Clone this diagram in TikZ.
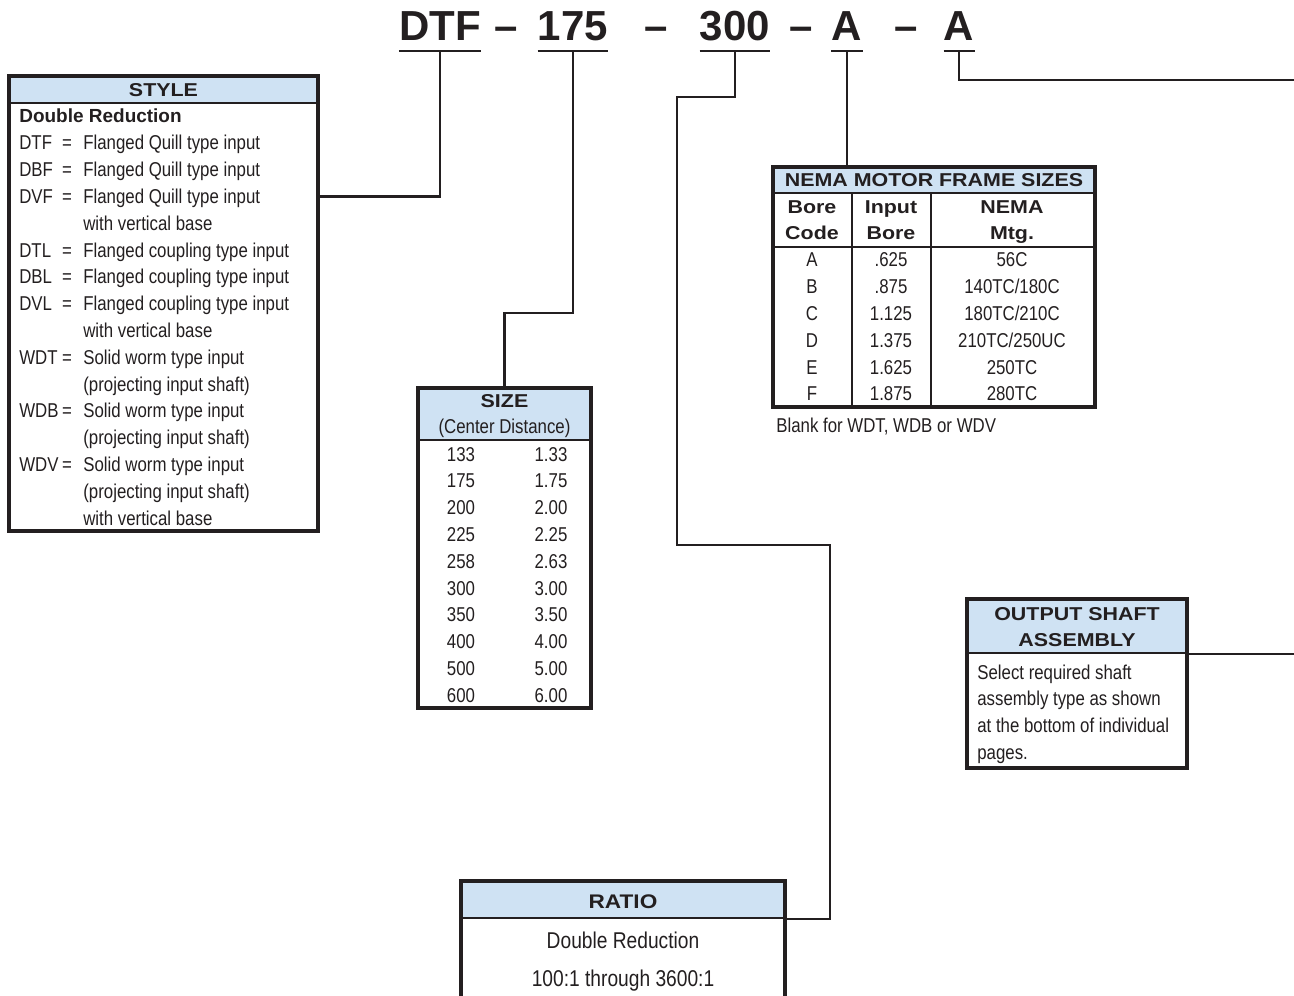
\documentclass[tikz,border=0pt]{standalone}
\usepackage{fontspec}
\setmainfont{Liberation Sans}
\newfontfamily\cond{Liberation Sans}[FakeStretch=0.84]
\newfontfamily\heavy{Liberation Sans}[FakeStretch=1.15]
\usetikzlibrary{positioning,fit}
\definecolor{ink}{HTML}{231F20}
\definecolor{headblue}{HTML}{CFE2F3}
\tikzset{
  frame/.style={draw=ink, line width=1.8pt, inner sep=0pt},
  hdr/.style={draw=ink, line width=1.1pt, fill=headblue, inner sep=0pt},
  conn/.style={draw=ink, line width=1.4pt},
  rule/.style={draw=ink, line width=0.9pt},
  body/.style={inner sep=0pt, anchor=base, text=ink, font=\cond\fontsize{11.4}{13}\selectfont},
  bodyw/.style={body, anchor=base west},
  big/.style={body, font=\cond\fontsize{13}{15}\selectfont},
  hd/.style={inner sep=0pt, anchor=base, text=ink, font=\heavy\bfseries\fontsize{10.6}{13}\selectfont},
  partno/.style={inner sep=0pt, anchor=base, text=ink, font=\bfseries\fontsize{23.9}{26}\selectfont},
}

\begin{document}
\begin{tikzpicture}[x=0.02cm,y=-0.02cm]
  \useasboundingbox (0,0) rectangle (1294,996);

  % model code
  \node[partno] (t1) at (440,41) {DTF};
  \node[partno] (m1) at (506,41) {--};
  \node[partno] (t2) at (573,41) {175};
  \node[partno] (m2) at (656,41) {--};
  \node[partno] (t3) at (735,41) {300};
  \node[partno] (m3) at (801,41) {--};
  \node[partno] (t4) at (847,41) {A};
  \node[partno] (m4) at (906,41) {--};
  \node[partno] (t5) at (959,41) {A};
  \foreach \t in {t1,t2,t3,t4,t5} {
    \draw[conn] ([yshift=-0.2cm]\t.base west) -- ([yshift=-0.2cm]\t.base east);
    \coordinate (u\t) at ([yshift=-0.2cm]\t.base);
  }

  % style
  \node[hdr, fit={(9,76) (318,103)}] (stylehd) {};
  \node[hd] (stylettl) at (163.5,97) {STYLE};
  \node[inner sep=0pt, anchor=base west, text=ink, font=\bfseries\fontsize{10.8}{13}\selectfont] (dblred) at (19,123) {Double Reduction};
  \foreach \txt [count=\i from 0] in {Flanged Quill type input, Flanged Quill type input,
      Flanged Quill type input, with vertical base, Flanged coupling type input,
      Flanged coupling type input, Flanged coupling type input, with vertical base,
      Solid worm type input, (projecting input shaft), Solid worm type input,
      (projecting input shaft), Solid worm type input, (projecting input shaft),
      with vertical base}
    \node[bodyw] (sd\i) at (83,{150+26.8*\i}) {\txt};
  \foreach \c/\i in {DTF/0,DBF/1,DVF/2,DTL/4,DBL/5,DVL/6,WDT/8,WDB/10,WDV/12} {
    \node[bodyw] (sc\c) at (19,{150+26.8*\i}) {\c};
    \node[body] (se\c) at (67,{150+26.8*\i}) {=};
  }
  \node[frame, fit={(9,76) (318,531)}] (stylebox) {};
  \draw[conn] (ut1) |- (stylebox.east |- scDVF);

  % size
  \node[hdr, fit={(418,388) (591,440)}] (sizehd) {};
  \node[hd] (sizettl) at (504.5,408) {SIZE};
  \node[body] (sizesub) at (504.5,434) {(Center Distance)};
  \foreach \a/\b [count=\i from 0] in {133/1.33,175/1.75,200/2.00,225/2.25,258/2.63,
      300/3.00,350/3.50,400/4.00,500/5.00,600/6.00} {
    \node[body] (sa\i) at (461,{461+26.8*\i}) {\a};
    \node[body] (sb\i) at (551,{461+26.8*\i}) {\b};
  }
  \node[frame, fit={(418,388) (591,708)}] (sizebox) {};
  \draw[conn] (ut2) -- ++(0,262) -| (sizebox.north);

  % ratio
  \node[hdr, fit={(461,881) (785,918)}] (ratiohd) {};
  \node[hd, font=\heavy\bfseries\fontsize{11.2}{13}\selectfont] (ratiottl) at (623,908) {RATIO};
  \node[big] (ratio1) at (623,948) {Double Reduction};
  \node[big] (ratio2) at (623,986) {100:1 through 3600:1};
  \node[frame, fit={(461,881) (785,1003)}] (ratiobox) {};
  \draw[conn] (ut3) -- ++(0,46) -- ++(-58,0) -- ++(0,448) -- ++(153,0) |- (ratiohd.south east);

  % nema
  \node[hdr, fit={(773,167) (1095,193)}] (nemahd) {};
  \node[hd] (nemattl) at (934,187) {NEMA MOTOR FRAME SIZES};
  \node[hd] (h1a) at (812,214) {Bore};
  \node[hd] (h1b) at (812,240) {Code};
  \node[hd] (h2a) at (891,214) {Input};
  \node[hd] (h2b) at (891,240) {Bore};
  \node[hd] (h3a) at (1012,214) {NEMA};
  \node[hd] (h3b) at (1012,240) {Mtg.};
  \draw[rule] (773,247) -- (1095,247);
  \draw[rule] (852,193) -- (852,407);
  \draw[rule] (931,193) -- (931,407);
  \foreach \a/\b/\c [count=\i from 0] in {A/.625/56C,B/.875/140TC\slash 180C,
      C/1.125/180TC\slash 210C,D/1.375/210TC\slash 250UC,E/1.625/250TC,F/1.875/280TC} {
    \node[body] (na\i) at (812,{267+26.8*\i}) {\a};
    \node[body] (nb\i) at (891,{267+26.8*\i}) {\b};
    \node[body] (nc\i) at (1012,{267+26.8*\i}) {\c};
  }
  \node[frame, fit={(773,167) (1095,407)}] (nemabox) {};
  \node[bodyw] (blank) at (776,433) {Blank for WDT, WDB or WDV};
  \draw[conn] (ut4) -- (ut4 |- nemabox.north);

  % output shaft
  \node[hdr, fit={(967,599) (1187,653)}] (outhd) {};
  \node[hd] (outttl1) at (1077,620) {OUTPUT SHAFT};
  \node[hd] (outttl2) at (1077,646) {ASSEMBLY};
  \foreach \txt [count=\i from 0] in {Select required shaft, assembly type as shown,
      at the bottom of individual, pages.}
    \node[bodyw] (ot\i) at (977,{679+26.8*\i}) {\txt};
  \node[frame, fit={(967,599) (1187,768)}] (outbox) {};
  \coordinate (offA) at (1300,80);
  \draw[conn] (ut5) |- (offA);
  \draw[conn] (outbox.east |- outhd.south) -- ++(120,0) coordinate (offout);
\end{tikzpicture}
\end{document}
